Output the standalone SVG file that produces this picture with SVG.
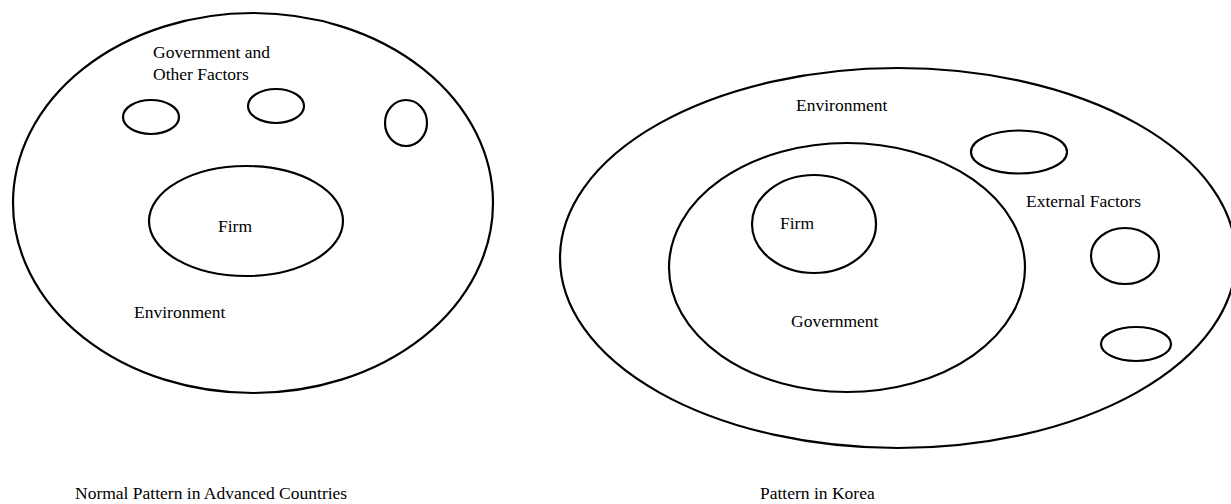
<svg xmlns="http://www.w3.org/2000/svg" width="1231" height="504" viewBox="0 0 1231 504">
<style>
.sh{fill:none;stroke:#000;stroke-width:2.2}
.t{font-family:"Liberation Serif","Times New Roman",serif;font-size:17.5px;fill:#000}
</style>
<rect width="1231" height="504" fill="#fff"/>
<g id="left">
<g id="left-environment"><ellipse class="sh" cx="253" cy="203" rx="240" ry="190"/><text class="t" x="134" y="318">Environment</text></g>
<g id="left-factors"><text class="t" x="153" y="58">Government and</text><text class="t" x="153" y="80">Other Factors</text>
<ellipse class="sh" cx="151" cy="117" rx="28" ry="17"/>
<ellipse class="sh" cx="276" cy="106" rx="28" ry="17"/>
<ellipse class="sh" cx="406" cy="123" rx="21" ry="23"/></g>
<g id="left-firm"><ellipse class="sh" cx="246" cy="221" rx="97" ry="55"/><text class="t" x="218" y="232">Firm</text></g>
<text class="t" x="75" y="499">Normal Pattern in Advanced Countries</text>
</g>
<g id="right">
<g id="right-environment"><ellipse class="sh" cx="898" cy="258" rx="338" ry="190"/><text class="t" x="796" y="111">Environment</text></g>
<g id="right-government"><ellipse class="sh" cx="847" cy="267.5" rx="178" ry="124.5"/><text class="t" x="791" y="327">Government</text></g>
<g id="right-firm"><ellipse class="sh" cx="814" cy="224" rx="62" ry="49"/><text class="t" x="780" y="229">Firm</text></g>
<g id="right-external"><text class="t" x="1026" y="207">External Factors</text>
<ellipse class="sh" cx="1019" cy="152" rx="48" ry="21.5"/>
<ellipse class="sh" cx="1125" cy="256" rx="34" ry="28"/>
<ellipse class="sh" cx="1136" cy="344" rx="35" ry="17"/></g>
<text class="t" x="760" y="499">Pattern in Korea</text>
</g>
<g id="connectors"/>
</svg>
